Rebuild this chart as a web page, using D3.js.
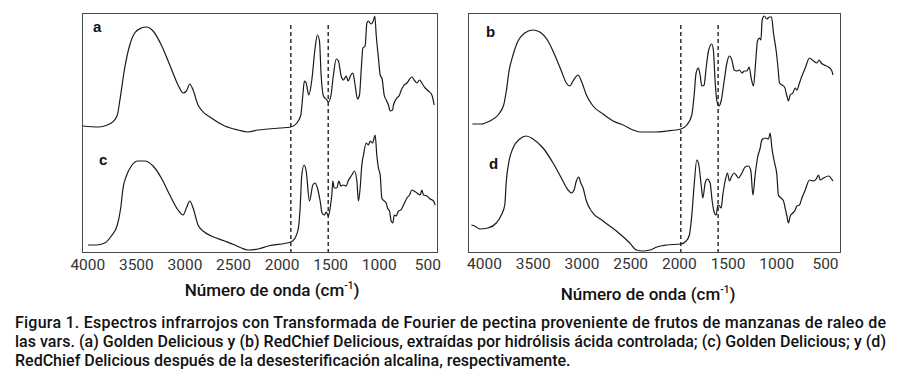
<!DOCTYPE html>
<html>
<head>
<meta charset="utf-8">
<script src="https://cdn.jsdelivr.net/npm/d3@7"></script>
<style>
  body { margin: 0; background: #fff; }
  svg { display: block; }
</style>
</head>
<body>
<svg id="chart" width="900" height="382"></svg>
<script>
// wavenumber (cm-1) and absorbance (arbitrary units)
var curveA = [[4044,126],[3890,125],[3753,129],[3691,137],[3666,151],[3615,184],[3563,207],[3512,219],[3444,224],[3392,225],[3323,221],[3238,207],[3151,187],[3066,167],[3014,159],[2980,161],[2945,168],[2911,162],[2860,147],[2826,142],[2723,134],[2585,126],[2448,122],[2345,120],[2242,122],[2139,123],[2015,124],[1905,125],[1843,129],[1802,137],[1781,157],[1765,171],[1747,169],[1720,157],[1689,172],[1655,204],[1631,217],[1610,211],[1593,177],[1569,156],[1534,152],[1518,150],[1493,156],[1466,177],[1438,193],[1415,191],[1387,176],[1363,172],[1335,176],[1315,171],[1287,177],[1266,179],[1243,167],[1219,153],[1198,157],[1181,181],[1163,204],[1140,206],[1122,229],[1106,231],[1081,228],[1060,230],[1040,236],[1026,217],[1003,194],[985,177],[965,173],[944,157],[923,152],[900,147],[882,141],[858,142],[848,147],[813,154],[786,157],[772,161],[745,166],[710,169],[659,175],[635,172],[607,169],[580,172],[556,169],[522,164],[488,161],[453,157],[429,147]];

var curveC = [[3993,7],[3907,7],[3821,9],[3753,16],[3691,27],[3656,44],[3632,64],[3598,76],[3547,86],[3478,91],[3409,91],[3323,86],[3238,74],[3151,57],[3066,42],[3014,37],[2980,44],[2945,51],[2911,44],[2860,27],[2808,21],[2723,16],[2585,11],[2482,7],[2414,4],[2345,2],[2242,3],[2139,6],[1905,10],[1861,14],[1827,24],[1809,44],[1792,77],[1768,87],[1747,81],[1713,51],[1678,67],[1655,69],[1631,64],[1603,51],[1583,39],[1559,37],[1541,40],[1518,36],[1500,44],[1483,57],[1472,71],[1459,64],[1431,64],[1411,71],[1390,66],[1363,67],[1335,66],[1315,71],[1277,77],[1250,81],[1225,71],[1209,51],[1191,64],[1174,87],[1157,97],[1129,109],[1106,107],[1088,111],[1064,109],[1037,117],[1019,96],[1003,84],[985,77],[968,54],[944,51],[923,49],[910,44],[889,41],[872,31],[854,29],[841,37],[820,36],[797,41],[772,42],[745,47],[710,54],[683,57],[659,62],[635,61],[607,59],[573,57],[556,62],[539,57],[504,56],[470,53],[436,51],[419,47]];

var curveB = [[4120,128],[4028,128],[3941,131],[3856,137],[3798,147],[3771,161],[3743,181],[3702,197],[3651,211],[3582,219],[3497,222],[3428,220],[3343,211],[3274,197],[3206,181],[3155,169],[3120,166],[3086,171],[3035,177],[3001,171],[2949,157],[2881,146],[2778,138],[2675,131],[2572,127],[2470,122],[2401,120],[2264,120],[2124,121],[1980,123],[1918,127],[1867,137],[1843,157],[1823,179],[1799,184],[1782,177],[1764,166],[1741,167],[1720,184],[1696,201],[1662,208],[1645,201],[1628,171],[1610,151],[1590,146],[1566,151],[1535,171],[1507,189],[1481,196],[1456,192],[1432,182],[1405,181],[1378,182],[1353,179],[1327,181],[1302,181],[1278,185],[1258,174],[1234,166],[1214,187],[1193,211],[1173,214],[1158,212],[1145,232],[1124,236],[1097,233],[1070,235],[1049,235],[1029,219],[1001,201],[984,186],[967,169],[943,167],[916,165],[891,156],[875,151],[857,157],[830,159],[806,164],[789,162],[762,169],[737,176],[703,184],[659,194],[618,191],[583,189],[560,192],[539,189],[508,187],[464,185],[429,181],[419,177]];

var curveD = [[4130,27],[4096,26],[4044,23],[3959,24],[3874,29],[3822,37],[3787,47],[3771,71],[3743,91],[3702,104],[3633,113],[3566,116],[3497,113],[3394,104],[3291,89],[3206,74],[3137,62],[3103,59],[3076,62],[3052,71],[3027,75],[3007,69],[2983,64],[2949,51],[2898,41],[2778,31],[2641,21],[2504,9],[2436,2],[2367,1],[2295,2],[2226,5],[2124,7],[1980,8],[1925,11],[1892,17],[1867,37],[1843,67],[1816,92],[1795,87],[1771,67],[1754,54],[1730,69],[1707,73],[1679,69],[1658,51],[1635,39],[1617,37],[1600,47],[1583,46],[1566,44],[1549,57],[1525,71],[1501,79],[1481,71],[1456,76],[1432,79],[1412,77],[1388,74],[1353,79],[1320,85],[1286,86],[1261,81],[1240,57],[1217,77],[1193,94],[1165,104],[1148,112],[1114,114],[1080,113],[1063,119],[1045,104],[1022,91],[994,77],[978,57],[953,54],[926,51],[909,44],[891,36],[875,29],[857,36],[830,39],[806,42],[789,46],[762,47],[737,54],[703,62],[659,72],[618,71],[590,73],[567,77],[549,72],[515,74],[464,76],[419,71]];

var tickValues = [4000, 3500, 3000, 2500, 2000, 1500, 1000, 500];
var dashLeft = [1905, 1520];
var dashRight = [1980, 1597];
var axisTitle = "Número de onda (cm";

var caption = [
  "Figura 1. Espectros infrarrojos con Transformada de Fourier de pectina proveniente de frutos de manzanas de raleo de",
  "las vars. (a) Golden Delicious y (b) RedChief Delicious, extraídas por hidrólisis ácida controlada; (c) Golden Delicious; y (d)",
  "RedChief Delicious después de la desesterificación alcalina, respectivamente."
];

var svg = d3.select("#chart");
svg.append("rect").attr("width", 900).attr("height", 382).attr("fill", "#fff");

// shared vertical scale (absorbance, arbitrary units)
var y = d3.scaleLinear().domain([0, 240]).range([252, 12]);

var panels = [
  { box: [82, 437], range: [87.3, 427.3], curves: [curveA, curveC], dashes: dashLeft,
    letters: [["a", 93, 32], ["c", 99, 165]], tickY: 270, titleX: 272, titleY: 296 },
  { box: [468, 840], range: [484, 825], curves: [curveB, curveD], dashes: dashRight,
    letters: [["b", 486, 37], ["d", 489, 169]], tickY: 269, titleX: 648, titleY: 300 }
];

panels.forEach(function(p) {
    var x = d3.scaleLinear().domain([4000, 500]).range(p.range);
    var g = svg.append("g");

    // frame
    g.append("rect")
        .attr("x", p.box[0] + 0.5)
        .attr("y", 13.5)
        .attr("width", p.box[1] - p.box[0])
        .attr("height", 252 - 13)
        .attr("fill", "none")
        .attr("stroke", "#4a4a4a")
        .attr("stroke-width", 1);

    // dashed markers
    g.selectAll("line.dash")
        .data(p.dashes)
        .enter()
        .append("line")
        .attr("class", "dash")
        .attr("x1", function(d) { return x(d); })
        .attr("x2", function(d) { return x(d); })
        .attr("y1", 25)
        .attr("y2", 252)
        .attr("stroke", "#222")
        .attr("stroke-width", 1.4)
        .attr("stroke-dasharray", "4,3");

    var line = d3.line()
        .x(function(d) { return x(d[0]); })
        .y(function(d) { return y(d[1]); })
        .curve(d3.curveMonotoneX);

    g.selectAll("path.spec")
        .data(p.curves)
        .enter()
        .append("path")
        .attr("class", "spec")
        .attr("d", line)
        .attr("fill", "none")
        .attr("stroke", "#1a1a1a")
        .attr("stroke-width", 1.2)
        .attr("stroke-linejoin", "round");

    // panel letters
    g.selectAll("text.letter")
        .data(p.letters)
        .enter()
        .append("text")
        .attr("class", "letter")
        .attr("x", function(d) { return d[1]; })
        .attr("y", function(d) { return d[2]; })
        .text(function(d) { return d[0]; })
        .style("font-family", "'Liberation Sans', Arial, sans-serif")
        .style("font-weight", "bold")
        .style("font-size", "15px")
        .style("fill", "#111");

    // x axis labels, no ticks
    var axis = d3.axisBottom(x).tickValues(tickValues).tickFormat(d3.format("d"))
        .tickSize(0).tickPadding(0);
    var ag = g.append("g")
        .attr("transform", "translate(0," + (p.tickY - 11) + ")")
        .call(axis);
    ag.select(".domain").remove();
    ag.selectAll("text")
        .attr("dy", "0.71em")
        .style("font-family", "Roboto, sans-serif")
        .style("font-size", "15.5px")
        .style("fill", "#333");

    var t = g.append("text")
        .attr("x", p.titleX)
        .attr("y", p.titleY)
        .attr("text-anchor", "middle")
        .style("font-family", "Roboto, sans-serif")
        .style("font-weight", "500")
        .style("font-size", "17px")
        .style("fill", "#111");
    t.append("tspan").text(axisTitle);
    t.append("tspan").attr("dy", -7).style("font-size", "10px").text("-1");
    t.append("tspan").attr("dy", 7).text(")");
});

// caption
svg.selectAll("text.caption")
    .data(caption)
    .enter()
    .append("text")
    .attr("class", "caption")
    .attr("x", 15)
    .attr("y", function(d, i) { return 328 + i * 19; })
    .attr("textLength", function(d, i) { return i < 2 ? 871 : null; })
    .attr("lengthAdjust", "spacing")
    .text(function(d) { return d; })
    .style("font-family", "Roboto, sans-serif")
    .style("font-weight", "500")
    .style("font-size", "16px")
    .style("fill", "#111");
</script>
</body>
</html>
